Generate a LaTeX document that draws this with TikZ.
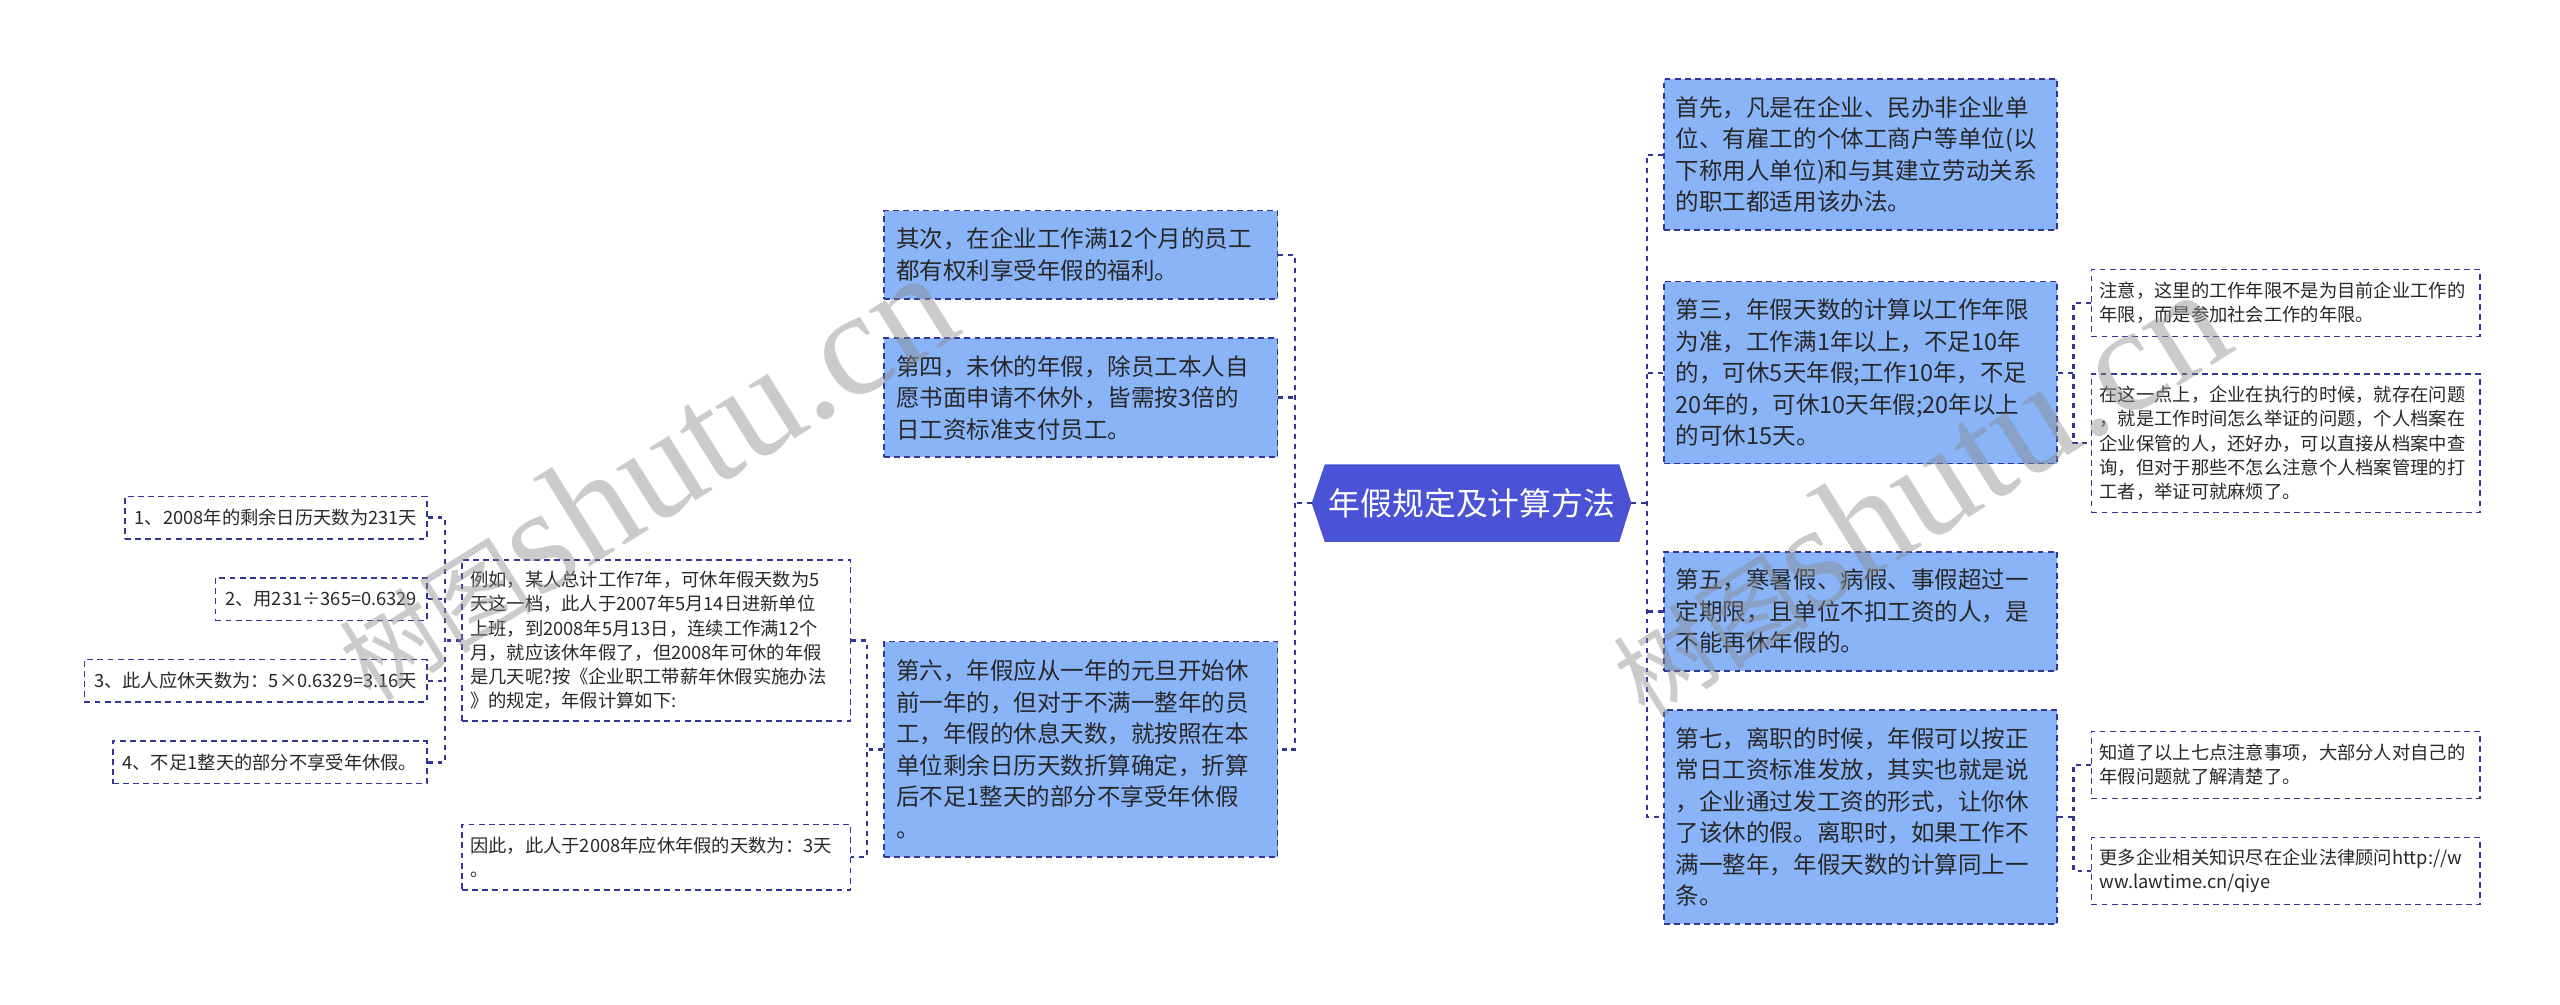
\documentclass[tikz,border=0pt]{standalone}
\usepackage{fontspec}
\setmainfont{Noto Sans CJK SC}
\newfontfamily\wmlat{Liberation Serif}
\usetikzlibrary{backgrounds,calc}

\definecolor{navy}{RGB}{52,54,150}
\definecolor{boxblue}{RGB}{138,180,248}
\definecolor{hexblue}{RGB}{74,82,214}
\definecolor{txt}{RGB}{40,40,40}
\definecolor{wm}{RGB}{140,140,140}

\begin{document}
\begin{tikzpicture}[x=1pt,y=-1pt,
  lnk/.style={draw=navy, line width=1.4pt, dash pattern=on 3pt off 3pt},
  boxbase/.style={rectangle, draw=navy, line width=1pt, dash pattern=on 3.6pt off 2.6pt, text=txt, align=left, inner ysep=0pt, anchor=center},
  bluebox/.style={boxbase, fill=boxblue, inner xsep=7.5pt, text width=226pt, font=\fontsize{14.4}{19.3}\selectfont},
  smallbox/.style={boxbase, fill=white, inner xsep=5pt, text width=228pt, font=\fontsize{11.2}{14.8}\selectfont},
  tinybox/.style={boxbase, fill=white, inner xsep=6pt, minimum height=26pt, font=\fontsize{11.2}{14.8}\selectfont, anchor=east},
  hub/.style={rectangle, inner sep=0pt, minimum width=180pt, minimum height=47pt, text=white, font=\fontsize{19.5}{22}\selectfont},
  wmark/.style={text=wm, opacity=0.45, rotate=32, inner sep=0pt}
]
\useasboundingbox (0,0) rectangle (1568,615);

% central node
\node[hub] (hub) at (901.6,308.2) {年假规定及计算方法};
\coordinate (hubL) at ($(hub.west)+(-8,0)$);
\coordinate (hubR) at ($(hub.east)+(7.4,0)$);
\begin{scope}[on background layer]
  \fill[white] (0,0) rectangle (1568,615);
  \fill[hexblue] (hubL) -- (hub.north west) -- (hub.north east) -- (hubR) -- (hub.south east) -- (hub.south west) -- cycle;
\end{scope}

% left main branches
\node[bluebox, minimum height=54pt] (qici) at (662,156) {其次，在企业工作满12个月的员工\\都有权利享受年假的福利。};
\node[bluebox, minimum height=73pt] (disi) at (662,243.5) {第四，未休的年假，除员工本人自\\愿书面申请不休外，皆需按3倍的\\日工资标准支付员工。};
\node[bluebox, minimum height=132pt] (diliu) at (662,459) {第六，年假应从一年的元旦开始休\\前一年的，但对于不满一整年的员\\工，年假的休息天数，就按照在本\\单位剩余日历天数折算确定，折算\\后不足1整天的部分不享受年休假\\。};

% right main branches
\node[bluebox, minimum height=92.5pt] (shouxian) at (1139.5,94.75) {首先，凡是在企业、民办非企业单\\位、有雇工的个体工商户等单位(以\\下称用人单位)和与其建立劳动关系\\的职工都适用该办法。};
\node[bluebox, minimum height=111.5pt] (disan) at (1139.5,228.25) {第三，年假天数的计算以工作年限\\为准，工作满1年以上，不足10年\\的，可休5天年假;工作10年，不足\\20年的，可休10天年假;20年以上\\的可休15天。};
\node[bluebox, minimum height=73pt] (diwu) at (1139.5,374.5) {第五，寒暑假、病假、事假超过一\\定期限，且单位不扣工资的人，是\\不能再休年假的。};
\node[bluebox, minimum height=131pt] (diqi) at (1139.5,500.5) {第七，离职的时候，年假可以按正\\常日工资标准发放，其实也就是说\\，企业通过发工资的形式，让你休\\了该休的假。离职时，如果工作不\\满一整年，年假天数的计算同上一\\条。};

% right small boxes
\node[smallbox, minimum height=41pt] (zhuyi) at (1400,185.5) {注意，这里的工作年限不是为目前企业工作的\\年限，而是参加社会工作的年限。};
\node[smallbox, minimum height=85pt] (zaizhe) at (1400,271.5) {在这一点上，企业在执行的时候，就存在问题\\，就是工作时间怎么举证的问题，个人档案在\\企业保管的人，还好办，可以直接从档案中查\\询，但对于那些不怎么注意个人档案管理的打\\工者，举证可就麻烦了。};
\node[smallbox, minimum height=41pt] (zhidao) at (1400,468.5) {知道了以上七点注意事项，大部分人对自己的\\年假问题就了解清楚了。};
\node[smallbox, minimum height=41pt] (gengduo) at (1400,533.5) {更多企业相关知识尽在企业法律顾问http://w\\ww.lawtime.cn/qiye};

% left small boxes
\node[smallbox, minimum height=98.6pt] (liru) at (402,392.3) {例如，某人总计工作7年，可休年假天数为5\\天这一档，此人于2007年5月14日进新单位\\上班，到2008年5月13日，连续工作满12个\\月，就应该休年假了，但2008年可休的年假\\是几天呢?按《企业职工带薪年休假实施办法\\》的规定，年假计算如下:};
\node[smallbox, minimum height=40pt] (yinci) at (402,525) {因此，此人于2008年应休年假的天数为：3天\\。};
\node[tinybox] (n1) at (262,317) {1、2008年的剩余日历天数为231天};
\node[tinybox] (n2) at (262,367) {2、用231÷365=0.6329};
\node[tinybox] (n3) at (262,417) {3、此人应休天数为：5×0.6329=3.16天};
\node[tinybox] (n4) at (262,467) {4、不足1整天的部分不享受年休假。};

% bus coordinates
\coordinate (busL) at (793,0);
\coordinate (busR) at (1008.6,0);
\coordinate (busS) at (1270,0);
\coordinate (bus6) at (531,0);
\coordinate (busEx) at (272.5,0);

% connectors: centre to left
\draw[lnk] (hubL) -- (busL|-hubL);
\draw[lnk] (qici.east) -- (busL|-qici.east) -- (busL|-diliu.east) -- (diliu.east);
\draw[lnk] (disi.east) -- (busL|-disi.east);
% centre to right
\draw[lnk] (hubR) -- (busR|-hubR);
\draw[lnk] (shouxian.west) -- (busR|-shouxian.west) -- (busR|-diqi.west) -- (diqi.west);
\draw[lnk] (disan.west) -- (busR|-disan.west);
\draw[lnk] (diwu.west) -- (busR|-diwu.west);
% third
\draw[lnk] (disan.east) -- (busS|-disan.east);
\draw[lnk] (zhuyi.west) -- (busS|-zhuyi.west) -- (busS|-zaizhe.west) -- (zaizhe.west);
% seventh
\draw[lnk] (diqi.east) -- (busS|-diqi.east);
\draw[lnk] (zhidao.west) -- (busS|-zhidao.west) -- (busS|-gengduo.west) -- (gengduo.west);
% sixth
\draw[lnk] (diliu.west) -- (bus6|-diliu.west);
\draw[lnk] (liru.east) -- (bus6|-liru.east) -- (bus6|-yinci.east) -- (yinci.east);
% example
\draw[lnk] (liru.west) -- (busEx|-liru.west);
\draw[lnk] (n1.east) -- (busEx|-n1.east) -- (busEx|-n4.east) -- (n4.east);
\draw[lnk] (n2.east) -- (busEx|-n2.east);
\draw[lnk] (n3.east) -- (busEx|-n3.east);

% watermarks
\node[wmark] (wm1) at (394,292) {{\fontsize{60}{60}\selectfont 树图}{\wmlat\fontsize{92}{92}\selectfont shutu.cn}};
\node[wmark] (wm2) at (1174,302) {{\fontsize{60}{60}\selectfont 树图}{\wmlat\fontsize{92}{92}\selectfont shutu.cn}};
\end{tikzpicture}
\end{document}
